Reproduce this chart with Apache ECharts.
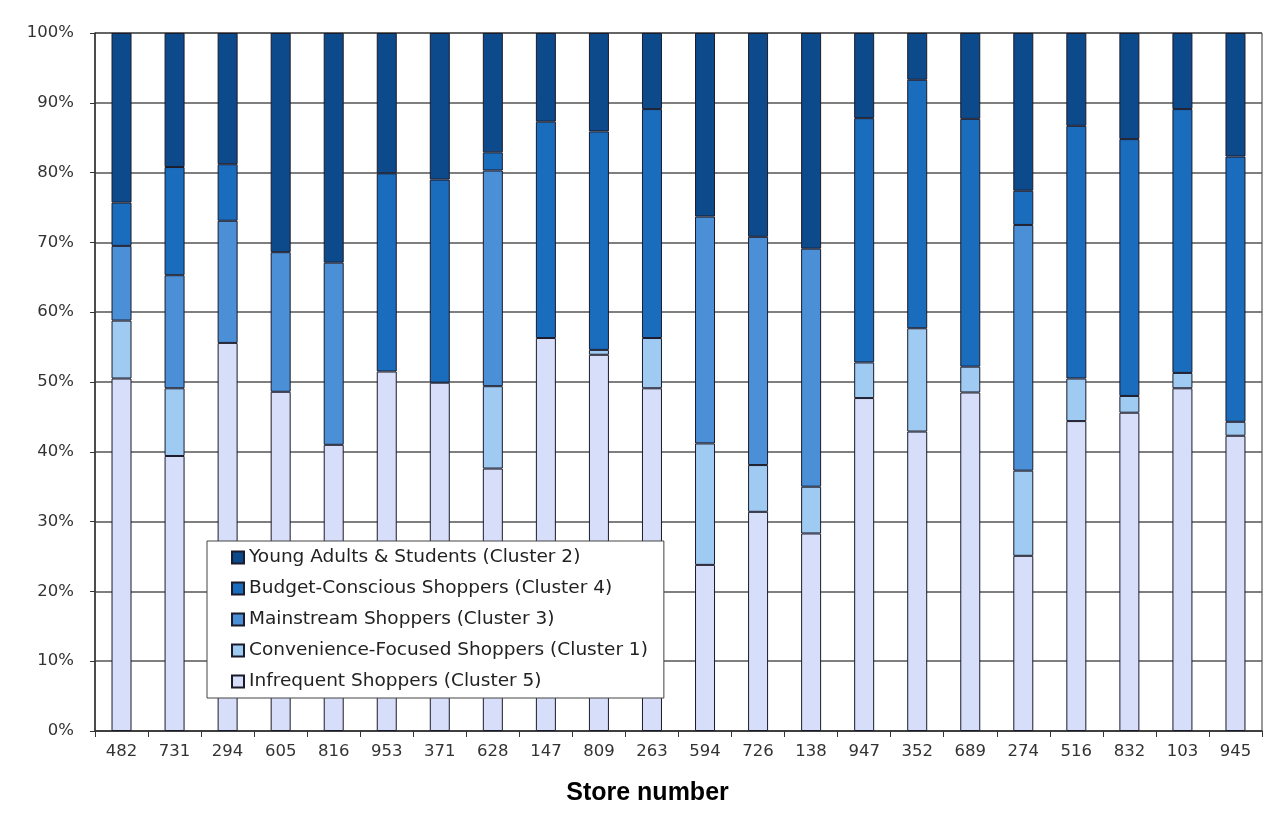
<!DOCTYPE html>
<html>
<head>
<meta charset="utf-8">
<script src="https://cdn.jsdelivr.net/npm/echarts@6/dist/echarts.min.js"></script>
<style>
html,body{margin:0;padding:0;background:#fff;}
#chart{width:1280px;height:827px;}
</style>
</head>
<body>
<div id="chart"></div>
<script>
const stores = ['482','731','294','605','816','953','371','628','147','809','263','594','726','138','947','352','689','274','516','832','103','945'];
const infrequent  = [50.5,39.4,55.6,48.6,41.0,51.5,49.9,37.6,56.3,53.9,49.1,23.8,31.4,28.3,47.7,42.9,48.5,25.1,44.4,45.6,49.1,42.3];
const convenience = [8.3,9.7,0,0,0,0,0,11.8,0,0.7,7.2,17.4,6.7,6.7,5.1,14.8,3.7,12.2,6.1,2.4,2.2,2.0];
const mainstream  = [10.7,16.2,17.5,20.0,26.1,0,0,30.9,0,0,0,32.5,32.7,34.1,0,0,0,35.2,0,0,0,0];
const budget      = [6.2,15.5,8.1,0,0,28.4,29.1,2.6,31.0,31.3,32.8,0,0,0,35.0,35.6,35.5,4.9,36.2,36.8,37.8,38.0];
const young       = [24.3,19.2,18.8,31.4,32.9,20.1,21.0,17.1,12.7,14.1,10.9,26.3,29.2,30.9,12.2,6.7,12.3,22.6,13.3,15.2,10.9,17.7];
const yTicks = [0,10,20,30,40,50,60,70,80,90,100];

const names = {
  young: 'Young Adults & Students (Cluster 2)',
  budget: 'Budget-Conscious Shoppers (Cluster 4)',
  main: 'Mainstream Shoppers (Cluster 3)',
  conv: 'Convenience-Focused Shoppers (Cluster 1)',
  infreq: 'Infrequent Shoppers (Cluster 5)'
};
const colors = {
  young: '#0c4a8c', budget: '#1a6cbd', main: '#4b8fd6', conv: '#9fcaf2', infreq: '#d6def9'
};

function mk(key, arr) {
  return {
    name: names[key], type: 'bar', stack: 'total', barWidth: 20,
    data: arr.map(v => v === 0 ? '-' : v),
    itemStyle: { color: colors[key], borderColor: '#1b1b2b', borderWidth: 1 },
    emphasis: { disabled: true }
  };
}

const chart = echarts.init(document.getElementById('chart'), null, { renderer: 'canvas' });
chart.setOption({
  animation: false,
  backgroundColor: '#ffffff',
  grid: { left: 95, right: 18, top: 33, bottom: 96, show: true, borderColor: '#333', borderWidth: 1 },
  xAxis: {
    type: 'category', data: stores,
    name: 'Store number', nameLocation: 'middle', nameGap: 50,
    nameTextStyle: { fontFamily: 'Liberation Sans, Arial', fontWeight: 'bold', fontSize: 25, color: '#000',
      padding: [0, 62, 0, 0] },
    axisLine: { lineStyle: { color: '#333', width: 1.5 } },
    axisTick: { show: true, length: 6, lineStyle: { color: '#333' } },
    axisLabel: { interval: 0, margin: 12, fontFamily: 'DejaVu Sans', fontSize: 16.5, color: '#333' }
  },
  yAxis: {
    type: 'value', min: 0, max: 100, interval: 10,
    axisLine: { show: true, lineStyle: { color: '#333', width: 1.5 } },
    axisTick: { show: true, length: 5, lineStyle: { color: '#333' } },
    splitLine: { show: true, lineStyle: { color: '#555', width: 1.5 } },
    axisLabel: { margin: 21, fontFamily: 'DejaVu Sans', fontSize: 16.5, color: '#333',
      formatter: v => yTicks.includes(v) ? v + '%' : '' }
  },
  legend: {
    orient: 'vertical', left: 207, top: 541,
    data: [names.young, names.budget, names.main, names.conv, names.infreq],
    backgroundColor: '#fff', borderColor: '#444', borderWidth: 1,
    padding: [7, 16, 7, 24], itemGap: 12, itemWidth: 12, itemHeight: 12,
    icon: 'rect',
    textStyle: { fontFamily: 'DejaVu Sans', fontSize: 18.5, lineHeight: 19, color: '#222' }
  },
  series: [
    mk('infreq', infrequent),
    mk('conv', convenience),
    mk('main', mainstream),
    mk('budget', budget),
    mk('young', young)
  ]
});
</script>
</body>
</html>
